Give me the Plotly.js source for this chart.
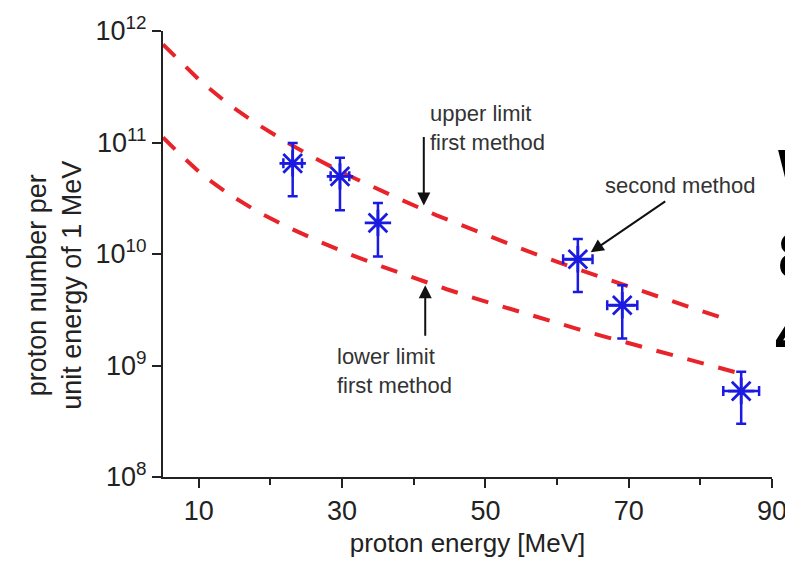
<!DOCTYPE html>
<html>
<head>
<meta charset="utf-8">
<script src="https://cdn.plot.ly/plotly-3.0.1.min.js"></script>
<style>html,body{margin:0;padding:0;background:#fff;overflow:hidden}#chart{width:785px;height:562px}</style>
</head>
<body>
<div id="chart"></div>
<script>
// Upper limit, first method (dashed red)
const upperE = [5.0, 7.1, 10.4, 14.2, 18.1, 22.2, 26.2, 30.4, 34.6, 38.1, 43.2, 47.6, 51.8, 56.0, 61.4, 65.0, 69.2, 74.0, 78.1, 82.7, 84.3];
const upperN = [7.57e11, 5.56e11, 3.47e11, 2.19e11, 1.47e11, 1.01e11, 7.23e10, 5.24e10, 3.90e10, 3.09e10, 2.22e10, 1.71e10, 1.335e10, 1.055e10, 7.9e9, 6.55e9, 5.31e9, 4.18e9, 3.41e9, 2.72e9, 2.52e9];
// Lower limit, first method (dashed red)
const lowerE = [5.0, 7.1, 10.7, 14.5, 18.4, 22.6, 27.1, 31.2, 35.7, 39.9, 44.6, 48.8, 53.4, 58.0, 62.8, 67.0, 71.6, 76.2, 80.4, 85.1];
const lowerN = [1.11e11, 8.15e10, 4.98e10, 3.34e10, 2.36e10, 1.72e10, 1.27e10, 9.86e9, 7.66e9, 6.13e9, 4.83e9, 3.96e9, 3.21e9, 2.62e9, 2.13e9, 1.79e9, 1.48e9, 1.23e9, 1.04e9, 8.64e8];
// Second method (blue points with error bars)
const pointE = [23.1, 29.7, 35.0, 62.9, 69.1, 85.7];
const pointN = [6.5e10, 4.97e10, 1.9e10, 8.97e9, 3.47e9, 5.9e8];
const pointNHi = [9.9e10, 7.3e10, 2.87e10, 1.36e10, 5.25e9, 8.8e8];
const pointNLo = [3.3e10, 2.47e10, 9.5e9, 4.57e9, 1.75e9, 3.0e8];
const pointEErr = [1.3, 1.3, 0, 2.05, 2.1, 2.5];

const xTicks = [10, 30, 50, 70, 90];
const xMinorTicks = [20, 40, 60, 80];
const yTicks = [1e8, 1e9, 1e10, 1e11, 1e12];
const yTickText = ['10<sup>8</sup>', '10<sup>9</sup>', '10<sup>10</sup>', '10<sup>11</sup>', '10<sup>12</sup>'];

const FONT = 'Liberation Sans, Arial, Helvetica, sans-serif';
const RED = '#e8232a';
const BLUE = '#1a1ae0';
const INK = '#222';

const traces = [
  {x: upperE, y: upperN, mode: 'lines', type: 'scatter',
   line: {color: RED, width: 4, dash: '17px,15px'}, hoverinfo: 'skip'},
  {x: lowerE, y: lowerN, mode: 'lines', type: 'scatter',
   line: {color: RED, width: 4, dash: '17px,15px'}, hoverinfo: 'skip'},
  {x: pointE, y: pointN, mode: 'markers', type: 'scatter',
   marker: {symbol: 'asterisk-open', size: 22, color: BLUE, line: {color: BLUE, width: 2.8}},
   error_y: {type: 'data', symmetric: false,
             array: pointN.map((v, i) => pointNHi[i] - v),
             arrayminus: pointN.map((v, i) => v - pointNLo[i]),
             color: BLUE, thickness: 2.5, width: 5},
   error_x: {type: 'data', array: pointEErr, color: BLUE, thickness: 2.5, width: 5}}
];

const textFont = {family: FONT, size: 22, color: '#333'};
const arrowBase = {text: '', showarrow: true, arrowhead: 2, arrowsize: 1.3, arrowwidth: 2, arrowcolor: '#111', font: {size: 1}};

const annotations = [
  // arrows (tip in data coords, tail offset in px)
  Object.assign({x: 41.4, y: 10.436, ax: 0, ay: -70}, arrowBase),
  Object.assign({x: 64.7, y: 10.015, ax: 76, ay: -52}, arrowBase),
  Object.assign({x: 41.6, y: 9.72, ax: 0, ay: 52}, arrowBase),
  // labels
  {x: 42.0, y: 11.126, text: 'upper limit<br>first method', showarrow: false, xanchor: 'left', yanchor: 'middle', align: 'left', font: textFont},
  {x: 66.4, y: 10.616, text: 'second method', showarrow: false, xanchor: 'left', yanchor: 'middle', align: 'left', font: textFont},
  {x: 29.0, y: 8.949, text: 'lower limit<br>first method', showarrow: false, xanchor: 'left', yanchor: 'middle', align: 'left', font: textFont},
  // y-axis title
  {xref: 'paper', yref: 'paper', x: -0.178, y: 0.43, text: 'proton number per<br>unit energy of 1 MeV', textangle: -90,
   showarrow: false, xanchor: 'center', yanchor: 'middle', font: {family: FONT, size: 27, color: INK}},
  // cropped text at the right edge of the source figure
  {xref: 'paper', yref: 'paper', x: 1.006, y: (477 - 173) / 446.5, text: '<b>W</b>', showarrow: false, xanchor: 'left', yanchor: 'middle', font: {family: FONT, size: 64, color: '#000'}},
  {xref: 'paper', yref: 'paper', x: 1.006, y: (477 - 256) / 446.5, text: '<b>8</b>', showarrow: false, xanchor: 'left', yanchor: 'middle', font: {family: FONT, size: 64, color: '#000'}},
  {xref: 'paper', yref: 'paper', x: 1.002, y: (477 - 334) / 446.5, text: '<b>4</b>', showarrow: false, xanchor: 'left', yanchor: 'middle', font: {family: FONT, size: 64, color: '#000'}}
];

const layout = {
  width: 785, height: 562,
  margin: {l: 163, r: 13, t: 31, b: 85, pad: 0},
  paper_bgcolor: '#fff', plot_bgcolor: '#fff',
  showlegend: false,
  font: {family: FONT, size: 27, color: INK},
  xaxis: {
    range: [5, 90], tickmode: 'array', tickvals: xTicks, ticktext: xTicks.map(String),
    ticklabeloverflow: 'allow',
    ticks: 'outside', ticklen: 9, tickwidth: 2, tickcolor: INK,
    showline: true, linewidth: 2, linecolor: INK, showgrid: false, zeroline: false,
    tickfont: {family: FONT, size: 27, color: INK},
    minor: {tickmode: 'array', tickvals: xMinorTicks, ticks: 'outside', ticklen: 6, tickwidth: 2, tickcolor: INK, showgrid: false},
    title: {text: 'proton energy [MeV]', font: {family: FONT, size: 26, color: INK}, standoff: 8}
  },
  yaxis: {
    type: 'log', range: [8, 12], tickmode: 'array', tickvals: yTicks, ticktext: yTickText,
    ticklabeloverflow: 'allow',
    ticks: 'outside', ticklen: 9, tickwidth: 2, tickcolor: INK,
    showline: true, linewidth: 2, linecolor: INK, showgrid: false, zeroline: false,
    tickfont: {family: FONT, size: 27, color: INK}
  },
  annotations: annotations
};

Plotly.newPlot('chart', traces, layout, {staticPlot: true, displayModeBar: false});
</script>
</body>
</html>
